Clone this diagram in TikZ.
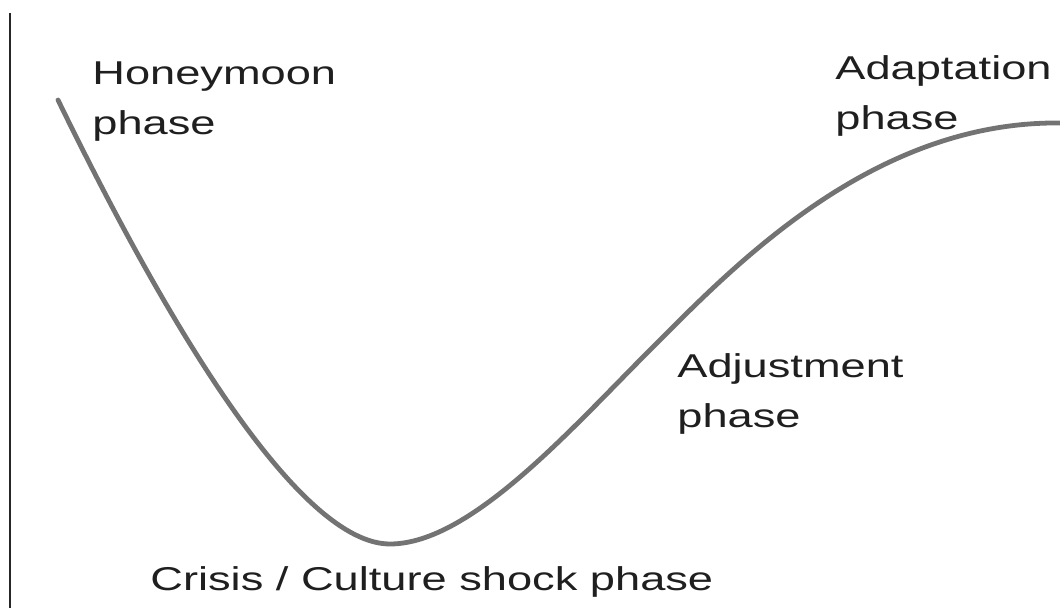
\documentclass[tikz,border=0pt]{standalone}
\usepackage{fontspec}
\usepackage{graphicx}
\setmainfont{Liberation Sans}
\newcommand{\wide}[1]{\scalebox{1.37}[1]{#1}}
\begin{document}
\begin{tikzpicture}[x=0.5pt, y=-0.5pt,
    every node/.style={inner sep=0pt, anchor=base west, align=left,
      text=black!88, font=\fontsize{16.5}{25}\selectfont}]
            \useasboundingbox (0,0) rectangle (1060,608);
            % Axis
            \coordinate (top) at (10,13);
            \coordinate (bottom) at (10,608);
            \draw[line width=1.4pt, black!85] (top) -- (bottom);
            % Curve
            \coordinate (start) at (58,100);
            \coordinate (low) at (390,544);
            \coordinate (mid) at (650,350);
            \coordinate (end) at (1060,123);
            \draw[line width=2.4pt, black!55, line cap=round]
              (start) .. controls (170,330) and (300,544) .. (low)
                      .. controls (470,544) and (570,430) .. (mid)
                      .. controls (730,270) and (870,121) .. (end);
            % Labels (anchored at the baseline of the last line)
            \node (honey) at (92,135) {\wide{Honeymoon}\\\wide{phase}};
            \node (crisis) at (150,590) {\wide{Crisis / Culture shock phase}};
            \node (adjust) at (677,428) {\wide{Adjustment}\\\wide{phase}};
            \node (adapt) at (835,130) {\wide{Adaptation}\\\wide{phase}};
          \end{tikzpicture}
\end{document}
